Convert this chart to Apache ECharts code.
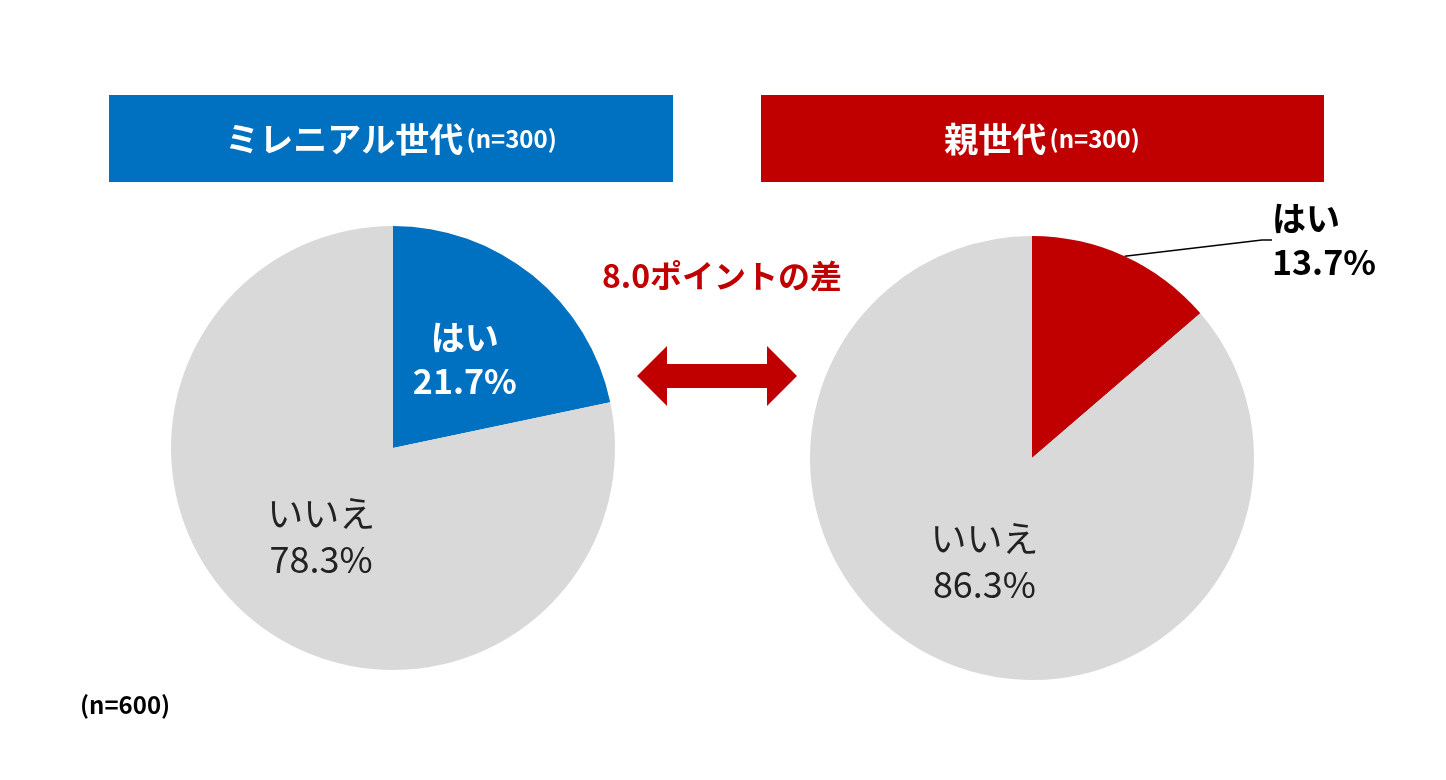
<!DOCTYPE html>
<html><head><meta charset="utf-8">
<script src="https://cdn.jsdelivr.net/npm/echarts@6/dist/echarts.min.js"></script>
<style>html,body{margin:0;background:#fff}#c{width:1446px;height:780px}</style></head>
<body><div id="c"></div>
<script>
const categories = ['はい', 'いいえ'];
const millennialValues = [21.7, 78.3];
const parentValues = [13.7, 86.3];
const titles = ['ミレニアル世代', '親世代'];
const sampleN = ['(n=300)', '(n=300)'];
const FONT = '"Noto Sans CJK JP", "Noto Sans", sans-serif';
const chart = echarts.init(document.getElementById('c'));
function pie(center, values, colors, yesOutside) {
  return {
    type: 'pie', center: center, radius: 222, startAngle: 90, clockwise: true,
    silent: true,
    data: categories.map((n, i) => ({
      name: n, value: values[i], itemStyle: { color: colors[i] },
      label: i === 0 ? (yesOutside ?
        { position: 'outside', color: '#000', fontWeight: 'bold', fontSize: 34, lineHeight: 44, align: 'center' } :
        { position: 'inside', color: '#fff', fontWeight: 'bold', fontSize: 34, lineHeight: 44 }) :
        { position: 'inside', color: '#222', fontSize: 36, lineHeight: 46 },
      labelLine: { show: i === 0 && yesOutside, length: 10, length2: 10, lineStyle: { color: '#000', width: 1.5 } }
    })),
    label: { fontFamily: FONT, formatter: p => p.name + '\n' + p.value.toFixed(1) + '%' },
    labelLayout: yesOutside ? function (p) { return p.dataIndex === 0 ? { x: 1272, y: 240 } : {}; } : undefined
  };
}
chart.setOption({
  animation: false,
  series: [
    pie([393, 448], millennialValues, ['#0070C0', '#D9D9D9'], false),
    pie([1032, 458], parentValues, ['#C00000', '#D9D9D9'], true)
  ],
  graphic: [
    { type: 'rect', shape: { x: 109, y: 95, width: 564, height: 87 }, style: { fill: '#0070C0' } },
    { type: 'rect', shape: { x: 761, y: 95, width: 563, height: 87 }, style: { fill: '#C00000' } },
    { type: 'text', x: 391, y: 139, style: { rich: { a: { fontSize: 34, fontWeight: 'bold', fill: '#fff', fontFamily: FONT }, b: { fontSize: 24, fontWeight: 'bold', fill: '#fff', fontFamily: FONT } }, text: '{a|' + titles[0] + '} {b|' + sampleN[0] + '}', align: 'center', verticalAlign: 'middle' } },
    { type: 'text', x: 1042, y: 139, style: { rich: { a: { fontSize: 34, fontWeight: 'bold', fill: '#fff', fontFamily: FONT }, b: { fontSize: 24, fontWeight: 'bold', fill: '#fff', fontFamily: FONT } }, text: '{a|' + titles[1] + '} {b|' + sampleN[1] + '}', align: 'center', verticalAlign: 'middle' } },
    { type: 'text', x: 722, y: 276, style: { text: '8.0ポイントの差', fontSize: 32, fontWeight: 'bold', fill: '#C00000', fontFamily: FONT, align: 'center', verticalAlign: 'middle' } },
    { type: 'polygon', shape: { points: [[637, 376], [667, 346], [667, 364], [767, 364], [767, 346], [797, 376], [767, 406], [767, 388], [667, 388], [667, 406]] }, style: { fill: '#C00000' } },
    { type: 'text', x: 80, y: 705, style: { text: '(n=600)', fontSize: 24, fontWeight: 'bold', fill: '#000', fontFamily: FONT, verticalAlign: 'middle' } }
  ]
});
</script></body></html>
